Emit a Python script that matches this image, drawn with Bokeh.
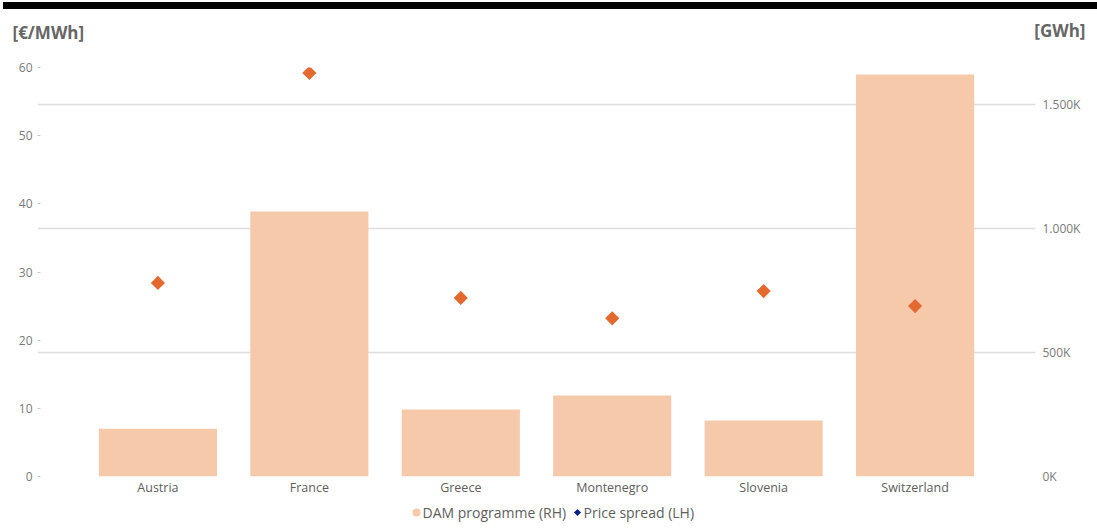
from bokeh.plotting import figure
from bokeh.models import (ColumnDataSource, FactorRange, Range1d, LinearAxis, FixedTicker,
                          Grid, Div)
from bokeh.core.properties import value
from bokeh.layouts import column, row
from bokeh.embed import file_html
from bokeh.resources import INLINE
import math

# Data
countries = ["Austria", "France", "Greece", "Montenegro", "Slovenia", "Switzerland"]
dam_programme_gwh = [192500, 1069000, 270000, 327000, 226000, 1622000]   # right axis
price_spread_eur = [28.4, 59.2, 26.2, 23.2, 27.2, 25.0]                  # left axis

gwh_ticks = [0, 500000, 1000000, 1500000]
gwh_tick_labels = ["0K", "500K", "1.000K", "1.500K"]
eur_ticks = [0, 10, 20, 30, 40, 50, 60]
series_names = ["DAM programme (RH)", "Price spread (LH)"]
unit_captions = ["[€/MWh]", "[GWh]"]

FONT = "Open Sans"
TEXT = "#605E5C"
LIGHT = "#7A7A7A"
BAR = "#F6C9AA"
DOT = "#E4692F"
LEGEND_DOT = "#0A1E8C"
GRID = "#DEDEDE"
W = 1097
FRAME_L, FRAME_R = 37, 1035


def strip(height):
    """A bare full-width figure used for the captions and the legend row."""
    s = figure(width=W, height=height, output_backend="svg", toolbar_location=None,
               x_range=Range1d(0, W), y_range=Range1d(height, 0),
               min_border=0, outline_line_color=None, margin=(0, 0, 0, 0))
    s.axis.visible = False
    s.grid.visible = False
    return s


# unit captions above the chart
head = strip(49)
head.text(x=[12], y=[23], text=[unit_captions[0]], text_align="left", text_baseline="middle",
          text_font=value(FONT), text_font_size="17px", text_font_style="bold",
          text_color="#666666")
head.text(x=[1085], y=[21], text=[unit_captions[1]], text_align="right", text_baseline="middle",
          text_font=value(FONT), text_font_size="17px", text_font_style="bold",
          text_color="#666666")

# main chart
src = ColumnDataSource(dict(country=countries, dam=dam_programme_gwh, spread=price_spread_eur))

p = figure(width=W, height=440, output_backend="svg", toolbar_location=None,
           x_range=FactorRange(*countries, range_padding=0.0984, range_padding_units="percent"),
           y_range=Range1d(0, 60),
           min_border_left=FRAME_L, min_border_right=W - FRAME_R,
           min_border_top=9, min_border_bottom=22,
           outline_line_color=None, margin=(0, 0, 0, 0))
p.extra_y_ranges = {"gwh": Range1d(0, 1650000)}

p.xgrid.visible = False
p.ygrid.visible = False
p.add_layout(Grid(dimension=1, ticker=FixedTicker(ticks=gwh_ticks), y_range_name="gwh",
                  grid_line_color=GRID, grid_line_width=1.5))

# left axis (€/MWh)
ly = p.yaxis[0]
ly.ticker = FixedTicker(ticks=eur_ticks)
ly.axis_line_color = None
ly.major_tick_in = 3
ly.major_tick_out = 0
ly.major_tick_line_color = "#C8C8C8"
ly.minor_tick_line_color = None
ly.major_label_standoff = 5
ly.major_label_text_font = FONT
ly.major_label_text_font_size = "12px"
ly.major_label_text_color = LIGHT

# right axis (GWh)
ry = LinearAxis(y_range_name="gwh", ticker=FixedTicker(ticks=gwh_ticks),
                major_label_overrides={t: s for t, s in zip(gwh_ticks, gwh_tick_labels)})
ry.axis_line_color = None
ry.major_tick_line_color = None
ry.major_tick_in = 0
ry.major_tick_out = 0
ry.minor_tick_line_color = None
ry.major_label_standoff = 7
ry.major_label_text_font = FONT
ry.major_label_text_font_size = "12px"
ry.major_label_text_color = LIGHT
p.add_layout(ry, "right")

# category axis
xa = p.xaxis[0]
xa.axis_line_color = None
xa.major_tick_line_color = None
xa.major_tick_in = 0
xa.major_tick_out = 0
xa.minor_tick_line_color = None
xa.major_label_standoff = 2
xa.major_label_text_font = FONT
xa.major_label_text_font_size = "12.5px"
xa.major_label_text_color = TEXT

p.vbar(x="country", top="dam", width=0.78, source=src, y_range_name="gwh",
       fill_color=BAR, line_color=None)
p.scatter(x="country", y="spread", source=src, marker="square", angle=math.pi / 4,
          size=10, fill_color=DOT, line_color=None)

# legend row
leg = strip(30)
leg.scatter(x=[416], y=[14], marker="circle", size=8, fill_color=BAR, line_color=None)
leg.scatter(x=[577], y=[14], marker="square", angle=math.pi / 4, size=5,
            fill_color=LEGEND_DOT, line_color=None)
leg.text(x=[422, 583], y=[14, 14], text=series_names, text_align="left",
         text_baseline="middle", text_font=value(FONT), text_font_size="14px",
         text_color=TEXT)

bar = Div(width=1094, height=7, margin=(2, 0, 0, 3), styles={"background-color": "black"})
page = column(bar, row(head, margin=0), row(p, margin=0), row(leg, margin=0),
              spacing=0, margin=(0, 0, 0, 0))

open("out.html", "w").write(file_html(page, INLINE))
